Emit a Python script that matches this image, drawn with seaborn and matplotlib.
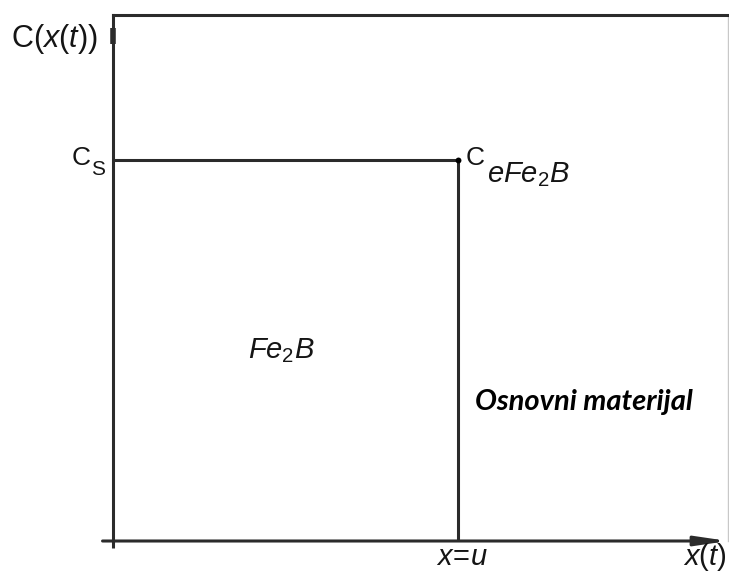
import matplotlib
matplotlib.use("Agg")
import matplotlib.pyplot as plt
import seaborn as sns
import pandas as pd

# ---- data (schematic concentration profile) ----
u_pos = 0.561          # x = u (interface position, fraction of x-range)
c_s = 0.724            # C_s level (fraction of y-range)
profile_x = [0.0, u_pos, u_pos]
profile_y = [c_s, c_s, 0.0]
region_labels = ["Fe$_2$B", "Osnovni materijal"]
axis_labels = ["x(t)", "C(x(t))"]

sns.set_style("white")
plt.rcParams["font.family"] = ["Liberation Sans", "DejaVu Sans"]
plt.rcParams["mathtext.fontset"] = "custom"
plt.rcParams["mathtext.rm"] = "Liberation Sans"
plt.rcParams["mathtext.it"] = "Liberation Sans:italic"

W, H = 729, 572
fig = plt.figure(figsize=(W / 100, H / 100), dpi=100)
L, R, T, B = 113, 728, 15, 541
ax = fig.add_axes([L / W, 1 - B / H, (R - L) / W, (B - T) / H])
ax.set_xlim(0, 1)
ax.set_ylim(0, 1)
ax.set_xticks([])
ax.set_yticks([])

lc = "#2b2b2b"
tc = "#151515"
lw = 2.2
for s in ["left", "top"]:
    ax.spines[s].set_color(lc)
    ax.spines[s].set_linewidth(lw)
ax.spines["right"].set_color("#c8c8c8")
ax.spines["right"].set_linewidth(1.0)
ax.spines["bottom"].set_visible(False)

# x axis with arrow (extends slightly left of the y-axis)
ax.annotate("", xy=(1.0, 0), xytext=(-0.017, 0), xycoords="data",
            arrowprops=dict(arrowstyle="-|>,head_length=1.9,head_width=0.28",
                            mutation_scale=10, lw=lw, color=lc,
                            shrinkA=0, shrinkB=0), annotation_clip=False)
# y axis extends slightly below x axis
ax.plot([0, 0], [0, -0.013], color=lc, lw=lw, clip_on=False, solid_capstyle="butt")
# small y arrow tip near top
ax.plot([0, 0], [0.945, 0.975], color=lc, lw=4, clip_on=False, solid_capstyle="butt")

df = pd.DataFrame({"x": profile_x, "y": profile_y})
sns.lineplot(data=df, x="x", y="y", sort=False, estimator=None,
             color=lc, lw=lw, ax=ax, legend=False)
sns.scatterplot(x=[u_pos], y=[c_s], color="black", s=18, ax=ax,
                legend=False, zorder=5, linewidth=0)
ax.set_xlabel("")
ax.set_ylabel("")

fs = 21
# y-axis label
ax.annotate(r"C$\mathit{(x(t))}$", xy=(0, 1), xytext=(-73.5, -23),
            xycoords="axes fraction", textcoords="offset points",
            ha="left", va="baseline", fontsize=fs + 1, color=tc)
# C_s
ax.annotate("C", xy=(0, c_s), xytext=(-29.5, -3.6), textcoords="offset points",
            ha="left", va="baseline", fontsize=19, color=tc)
ax.annotate("S", xy=(0, c_s), xytext=(-15.5, -10.5), textcoords="offset points",
            ha="left", va="baseline", fontsize=15, color=tc)
# C_eFe2B
ax.annotate("C", xy=(u_pos, c_s), xytext=(5.8, -3.6), textcoords="offset points",
            ha="left", va="baseline", fontsize=19, color=tc)
ax.annotate(r"$eFe_2B$", xy=(u_pos, c_s), xytext=(21.0, -15.8),
            textcoords="offset points", ha="left", va="baseline",
            fontsize=fs, color=tc)
# region labels
ax.text(0.219, 0.348, r"$Fe_2B$", ha="left", va="baseline", fontsize=fs, color=tc)
ax.annotate(region_labels[1], xy=(u_pos, 0.249), xytext=(12, 0),
            textcoords="offset points", ha="left", va="baseline",
            fontsize=21, fontweight="bold", fontstyle="italic",
            family=["Lato", "DejaVu Sans"], color="black")
# x labels
ax.annotate(r"$x\!=\!u$", xy=(u_pos, 0), xytext=(3, -17.3),
            textcoords="offset points", ha="center", va="baseline",
            fontsize=fs, color=tc, annotation_clip=False)
ax.annotate(r"$x(t)$", xy=(1, 0), xytext=(-1, -17.3),
            textcoords="offset points", ha="right", va="baseline",
            fontsize=fs, color=tc, annotation_clip=False)

fig.savefig("out.png", dpi=100, facecolor="white")
